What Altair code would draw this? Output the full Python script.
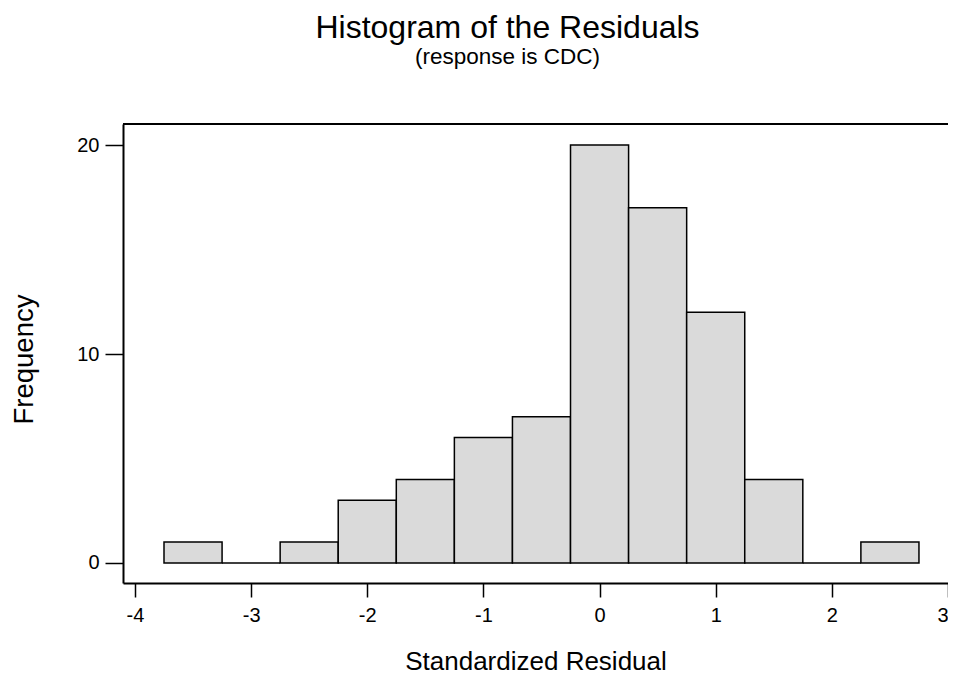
import altair as alt
import pandas as pd

bin_start = [-3.75, -3.25, -2.75, -2.25, -1.75, -1.25, -0.75, -0.25, 0.25, 0.75, 1.25, 1.75, 2.25]
bin_end = [-3.25, -2.75, -2.25, -1.75, -1.25, -0.75, -0.25, 0.25, 0.75, 1.25, 1.75, 2.25, 2.75]
counts = [1, 0, 1, 3, 4, 6, 7, 20, 17, 12, 4, 0, 1]
x_ticks = [-4, -3, -2, -1, 0, 1, 2, 3]
y_ticks = [0, 10, 20]

df = pd.DataFrame({"start": bin_start, "end": bin_end, "count": counts})

FONT = "Liberation Sans"

xscale = alt.Scale(domain=[-4.103, 3.0], nice=False, zero=False)
yscale = alt.Scale(domain=[-0.957, 21.005], nice=False, zero=False)

bars = alt.Chart(df).mark_rect(
    fill="#dadada", stroke="black", strokeWidth=1.5
).encode(
    x=alt.X("start:Q", scale=xscale,
            axis=alt.Axis(values=x_ticks, title="Standardized Residual", domain=True,
                          domainColor="black", domainWidth=2,
                          grid=False, tickSize=14, tickWidth=1.5, tickColor="black",
                          labelFontSize=20, labelColor="black", labelFont=FONT,
                          labelExpr="'' + datum.value",
                          labelAlign=alt.ExprRef("datum.value == 3 ? 'right' : 'center'"),
                          labelPadding=8, titleFontSize=26, titleFontWeight="normal",
                          titleFont=FONT, titleColor="black", titlePadding=23,
                          labelFlush=False, labelBound=False)),
    x2="end:Q",
    y=alt.Y("count:Q", scale=yscale,
            axis=alt.Axis(values=y_ticks, title="Frequency", domain=True,
                          domainColor="black", domainWidth=2, grid=False,
                          tickSize=18, tickWidth=1.5, tickColor="black",
                          labelFontSize=20, labelColor="black", labelFont=FONT,
                          labelPadding=6, titleFontSize=27.5, titleFontWeight="normal",
                          titleFont=FONT, titleColor="black", titlePadding=38,
                          titleY=235)),
    y2=alt.Y2(datum=0),
)

top_line = alt.Chart(df).mark_rule(color="black", strokeWidth=2).encode(
    x=alt.value(0), x2=alt.value("width"), y=alt.value(0)
)

chart = alt.layer(bars, top_line).properties(
    width=825,
    height=459,
    title=alt.Title(
        "Histogram of the Residuals",
        subtitle="(response is CDC)",
        anchor="middle",
        dx=-28,
        fontSize=32,
        fontWeight="normal",
        font=FONT,
        color="black",
        subtitleFontSize=22.5,
        subtitleFont=FONT,
        subtitleColor="black",
        subtitlePadding=1,
        offset=54,
    ),
    background="white",
    autosize=alt.AutoSizeParams(type="none"),
    padding={"left": 115, "top": 116, "right": 0, "bottom": 94},
).configure_view(
    stroke=None
)

chart.save("out.html", embed_options={"renderer": "svg", "actions": False})
